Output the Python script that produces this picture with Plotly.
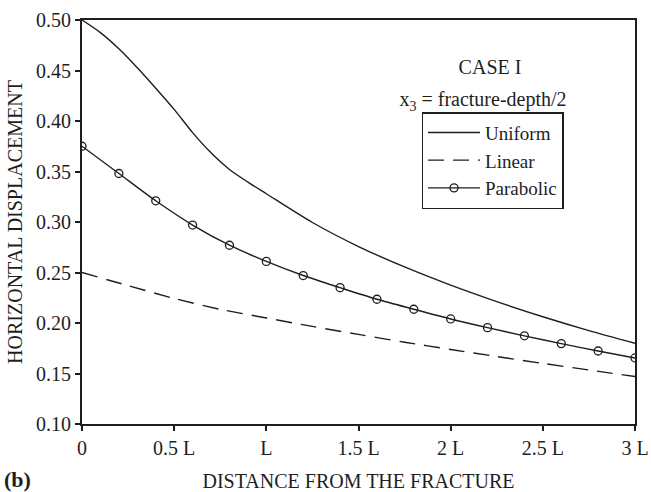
import plotly.graph_objects as go

# distances in units of L
x_uniform = [0.0, 0.1, 0.2, 0.3, 0.4, 0.5, 0.6, 0.7, 0.8, 0.9, 1.0, 1.25, 1.5, 1.75, 2.0, 2.25, 2.5, 2.75, 3.0]
y_uniform = [0.500, 0.4875, 0.4715, 0.4527, 0.4325, 0.4115, 0.3885, 0.3685, 0.3520, 0.3395, 0.3280,
             0.2995, 0.2757, 0.2555, 0.2375, 0.2212, 0.2062, 0.1925, 0.1800]

x_linear = [0.0, 0.25, 0.5, 0.75, 1.0, 1.25, 1.5, 1.75, 2.0, 2.25, 2.5, 2.75, 3.0]
y_linear = [0.250, 0.237, 0.2243, 0.2135, 0.205, 0.1966, 0.1887, 0.181, 0.1738, 0.1668, 0.1600, 0.1535, 0.1470]

x_parab = [0.0, 0.2, 0.4, 0.6, 0.8, 1.0, 1.2, 1.4, 1.6, 1.8, 2.0, 2.2, 2.4, 2.6, 2.8, 3.0]
y_parab = [0.375, 0.348, 0.321, 0.297, 0.277, 0.261, 0.247, 0.235, 0.2235, 0.2136, 0.204, 0.1954, 0.1873, 0.1796, 0.1723, 0.1654]

tick_vals = [0, 0.5, 1, 1.5, 2, 2.5, 3]
tick_text = ["0", "0.5 L", "L", "1.5 L", "2 L", "2.5 L", "3 L"]
y_ticks = [0.10, 0.15, 0.20, 0.25, 0.30, 0.35, 0.40, 0.45, 0.50]

FONT = "Liberation Serif"
INK = "#1e1e1e"

fig = go.Figure()
fig.add_trace(go.Scatter(x=x_uniform, y=y_uniform, mode="lines", name="Uniform",
                         line=dict(color=INK, width=1.4, shape="spline", smoothing=0.8)))
fig.add_trace(go.Scatter(x=x_linear, y=y_linear, mode="lines", name="Linear",
                         line=dict(color=INK, width=1.4, dash="16px,9px", shape="spline", smoothing=0.8)))
fig.add_trace(go.Scatter(x=x_parab, y=y_parab, mode="lines+markers", name="Parabolic",
                         line=dict(color=INK, width=1.4, shape="spline", smoothing=0.8),
                         marker=dict(symbol="circle-open", size=8, color=INK,
                                     line=dict(width=1.3, color=INK))))

fig.update_layout(
    width=651, height=492,
    margin=dict(l=82, r=16, t=20, b=68),
    paper_bgcolor="white", plot_bgcolor="white",
    font=dict(family=FONT, size=20, color=INK),
    showlegend=True,
    legend=dict(x=0.614, y=0.772, xanchor="left", yanchor="top",
                bordercolor=INK, borderwidth=1.5, bgcolor="white",
                font=dict(family=FONT, size=19, color=INK),
                itemwidth=52, tracegroupgap=0),
    xaxis=dict(range=[0, 3], tickvals=tick_vals, ticktext=tick_text,
               showgrid=False, zeroline=False, showline=True, linewidth=2,
               linecolor=INK, mirror=True, ticks="outside", ticklen=5,
               tickwidth=1.5, tickcolor=INK, automargin=False,
               tickfont=dict(family=FONT, size=20, color=INK),
               title=dict(text="DISTANCE FROM THE FRACTURE", standoff=19,
                          font=dict(family=FONT, size=20, color=INK))),
    yaxis=dict(range=[0.10, 0.50], tickvals=y_ticks, tickformat=".2f",
               showgrid=False, zeroline=False, showline=True, linewidth=2,
               linecolor=INK, mirror=True, ticks="outside", ticklen=5,
               tickwidth=1.5, tickcolor=INK, automargin=False,
               tickfont=dict(family=FONT, size=20, color=INK),
               title=dict(text="HORIZONTAL DISPLACEMENT", standoff=8,
                          font=dict(family=FONT, size=20, color=INK))),
)

fig.add_annotation(x=0.737, y=0.883, xref="paper", yref="paper", text="CASE I",
                   width=200, height=26, align="center", xanchor="center", yanchor="middle",
                   showarrow=False, font=dict(family=FONT, size=20, color=INK))
fig.add_annotation(x=0.725, y=0.80, xref="paper", yref="paper",
                   text="x<sub>3</sub> = fracture-depth/2",
                   width=220, height=28, align="center", xanchor="center", yanchor="middle",
                   showarrow=False, font=dict(family=FONT, size=20, color=INK))
fig.add_annotation(x=0.0, y=0.0, xref="paper", yref="paper", xanchor="left", yanchor="middle",
                   text="<b>(b)</b>", showarrow=False, xshift=-80, yshift=-55,
                   width=40, height=28, align="left",
                   font=dict(family=FONT, size=22, color=INK))

fig.write_html("out.html")
